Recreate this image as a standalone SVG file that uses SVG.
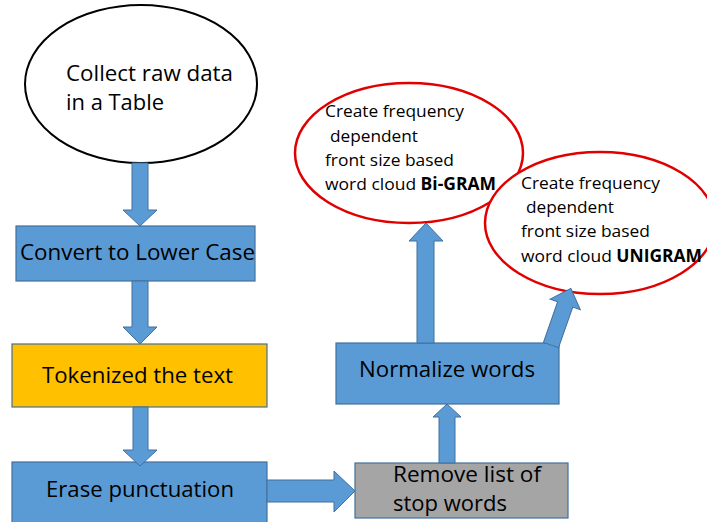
<svg xmlns="http://www.w3.org/2000/svg" width="707" height="522" viewBox="0 0 707 522">
  <defs>
    <style>
      .box { stroke: #41719C; stroke-width: 1.2; }
      .blue { fill: #5B9BD5; }
      .orange { fill: #FFC000; }
      .gray { fill: #A5A5A5; }
      .arrow { fill: #5B9BD5; stroke: #41719C; stroke-width: 1; }
      .start { fill: #FFFFFF; stroke: #000000; stroke-width: 2; }
      .cloud { fill: #FFFFFF; stroke: #E00000; stroke-width: 2.5; }
      .lbl { font-family: "Open Sans", "Liberation Sans", sans-serif; font-size: 22px; fill: #000000; }
      .sm { font-family: "Open Sans", "Liberation Sans", sans-serif; font-size: 17px; fill: #000000; }
      .b { font-weight: bold; }
    </style>
  </defs>

  <rect width="707" height="522" fill="#FFFFFF"/>

  <!-- process steps -->
  <g id="collect">
    <ellipse class="start" cx="141" cy="84" rx="116" ry="79"/>
    <text class="lbl" x="66" y="81" textLength="167" lengthAdjust="spacingAndGlyphs">Collect raw data</text>
    <text class="lbl" x="66" y="110" textLength="98" lengthAdjust="spacingAndGlyphs">in a Table</text>
  </g>

  <g id="lowercase">
    <rect class="box blue" x="16" y="226" width="239" height="55"/>
    <text class="lbl" x="20" y="260" textLength="235" lengthAdjust="spacingAndGlyphs">Convert to Lower Case</text>
  </g>

  <g id="tokenize">
    <rect class="box orange" x="12" y="344" width="255" height="63"/>
    <text class="lbl" x="42" y="383" textLength="191" lengthAdjust="spacingAndGlyphs">Tokenized the text</text>
  </g>

  <g id="punctuation">
    <rect class="box blue" x="12" y="462" width="255" height="64"/>
    <text class="lbl" x="46" y="497" textLength="188" lengthAdjust="spacingAndGlyphs">Erase punctuation</text>
  </g>

  <g id="stopwords">
    <rect class="box gray" x="355" y="463" width="213" height="55"/>
    <text class="lbl" x="393" y="482" textLength="148" lengthAdjust="spacingAndGlyphs">Remove list of</text>
    <text class="lbl" x="393" y="511" textLength="114" lengthAdjust="spacingAndGlyphs">stop words</text>
  </g>

  <g id="normalize">
    <rect class="box blue" x="336" y="343" width="223" height="61"/>
    <text class="lbl" x="359" y="377" textLength="176" lengthAdjust="spacingAndGlyphs">Normalize words</text>
  </g>

  <g id="bigram">
    <ellipse class="cloud" cx="409" cy="153" rx="114" ry="70"/>
    <text class="sm" x="325" y="117" textLength="139" lengthAdjust="spacingAndGlyphs">Create frequency</text>
    <text class="sm" x="330" y="142" textLength="88" lengthAdjust="spacingAndGlyphs">dependent</text>
    <text class="sm" x="325" y="166" textLength="129" lengthAdjust="spacingAndGlyphs">front size based</text>
    <text class="sm" x="325" y="190" textLength="171" lengthAdjust="spacingAndGlyphs">word cloud <tspan class="b">Bi-GRAM</tspan></text>
  </g>

  <g id="unigram">
    <ellipse class="cloud" cx="600" cy="223" rx="115" ry="71"/>
    <text class="sm" x="521" y="189" textLength="139" lengthAdjust="spacingAndGlyphs">Create frequency</text>
    <text class="sm" x="526" y="213" textLength="88" lengthAdjust="spacingAndGlyphs">dependent</text>
    <text class="sm" x="521" y="237" textLength="129" lengthAdjust="spacingAndGlyphs">front size based</text>
    <text class="sm" x="521" y="262" textLength="181" lengthAdjust="spacingAndGlyphs">word cloud <tspan class="b">UNIGRAM</tspan></text>
  </g>

  <!-- block arrows between steps -->
  <g id="connectors">
    <polygon class="arrow" points="132,163 148,163 148,210 157,210 140,226 123,210 132,210"/>
    <polygon class="arrow" points="132,281 148,281 148,327 157,327 140,344 123,327 132,327"/>
    <polygon class="arrow" points="133,407 148,407 148,450 157,450 140,466 123,450 133,450"/>
    <polygon class="arrow" points="267,480 334,480 334,471 355,491 334,512 334,502 267,502"/>
    <polygon class="arrow" points="439,463 455,463 455,417 461,417 447,404 433,417 439,417"/>
    <polygon class="arrow" points="417,343 434,343 434,241 443,241 426,223 409,241 417,241"/>
    <polygon class="arrow" transform="translate(551,345) rotate(19.3)" points="-8,0 8,0 8,-43 16,-43 0,-60 -16,-43 -8,-43"/>
  </g>
</svg>
